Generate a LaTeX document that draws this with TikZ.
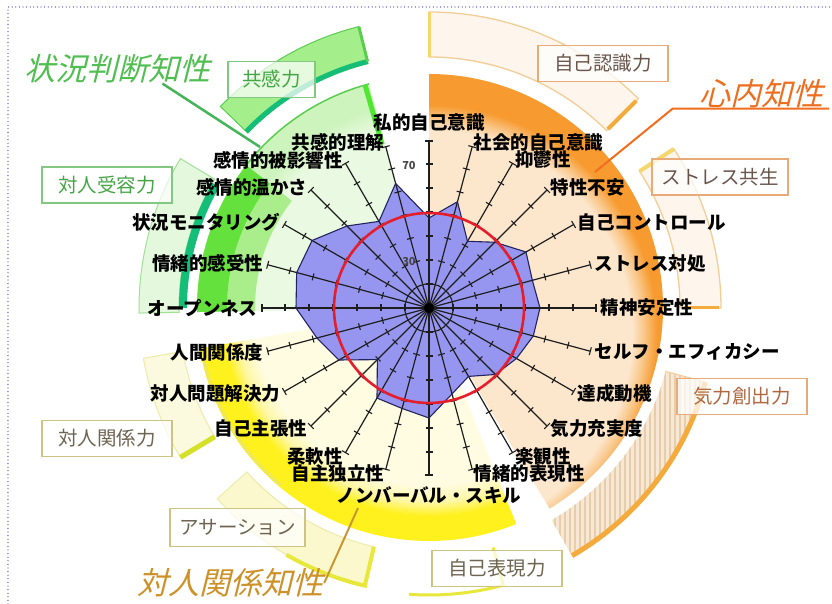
\documentclass[tikz,border=0pt]{standalone}
\usepackage{fontspec}
\newfontfamily\jp{Noto Sans CJK JP}
\newfontfamily\jptitle{Noto Sans CJK JP}[FakeSlant=0.25]
\usetikzlibrary{patterns.meta}
\definecolor{pchA}{RGB}{252,230,204}
\definecolor{pchB}{RGB}{250,200,140}
\definecolor{orgA}{RGB}{247,155,48}
\definecolor{crmA}{RGB}{255,252,226}
\definecolor{crmB}{RGB}{255,247,165}
\definecolor{ylwA}{RGB}{255,241,30}
\definecolor{grnA}{RGB}{234,250,226}
\definecolor{grnB}{RGB}{206,244,190}
\definecolor{grnBright}{RGB}{100,225,60}
\definecolor{grnMid}{RGB}{170,238,140}
\definecolor{grnEdge}{RGB}{90,205,80}
\definecolor{tealG}{RGB}{20,190,120}
\definecolor{kyoFill}{RGB}{165,238,140}
\definecolor{paleG}{RGB}{228,248,222}
\definecolor{paleGedge}{RGB}{160,225,150}
\definecolor{bandPale}{RGB}{254,246,236}
\definecolor{bandEdge}{RGB}{242,205,150}
\definecolor{bandYel}{RGB}{245,215,110}
\definecolor{bandOrg}{RGB}{245,170,60}
\definecolor{tanBase}{RGB}{246,232,212}
\definecolor{tanS}{RGB}{232,205,170}
\definecolor{ybandFill}{RGB}{251,249,222}
\definecolor{ybandFill2}{RGB}{252,248,205}
\definecolor{ybandEdge}{RGB}{236,236,170}
\definecolor{ylwLine}{RGB}{232,232,60}
\definecolor{ylwGreen}{RGB}{212,225,40}
\definecolor{ylwRim}{RGB}{238,232,90}
\definecolor{polyFill}{RGB}{150,150,240}
\definecolor{polyEdge}{RGB}{35,35,95}
\definecolor{axisC}{RGB}{30,30,30}
\definecolor{redC}{RGB}{228,30,45}
\definecolor{bxO}{RGB}{232,170,120}
\definecolor{bxY}{RGB}{205,195,130}
\definecolor{bxG}{RGB}{130,200,130}
\definecolor{txO}{RGB}{105,85,75}
\definecolor{txK}{RGB}{175,105,65}
\definecolor{txY}{RGB}{110,100,82}
\definecolor{txG}{RGB}{70,165,70}
\definecolor{titleG}{RGB}{80,190,80}
\definecolor{titleO}{RGB}{236,110,30}
\definecolor{titleY}{RGB}{205,145,40}
\definecolor{lineG}{RGB}{70,180,90}
\definecolor{lineO}{RGB}{240,110,30}
\definecolor{lineY}{RGB}{200,150,50}
\definecolor{borderC}{RGB}{70,70,170}
\definecolor{sclC}{RGB}{70,70,70}
\pgfdeclareradialshading{shOrange}{\pgfpoint{0bp}{0bp}}{color(0bp)=(pchA); color(19.6bp)=(pchA); color(20.7bp)=(pchB); color(22bp)=(orgA); color(50bp)=(orgA)}
\pgfdeclareradialshading{shYellow}{\pgfpoint{0bp}{0bp}}{color(0bp)=(crmA); color(19bp)=(crmA); color(20.8bp)=(crmB); color(22.3bp)=(ylwA); color(50bp)=(ylwA)}
\pgfdeclareradialshading{shGreen}{\pgfpoint{0bp}{0bp}}{color(0bp)=(grnA); color(19.7bp)=(grnA); color(22.2bp)=(grnB); color(50bp)=(grnB)}
\tikzset{
  wedge/.style n args={3}{insert path={(0,0) -- (#1:#3pt) arc[start angle=#1,end angle=#2,radius=#3pt] -- cycle}},
  sect/.style n args={4}{insert path={(#1:#4pt) arc[start angle=#1,end angle=#2,radius=#4pt] -- (#2:#3pt) arc[start angle=#2,end angle=#1,radius=#3pt] -- cycle}},
  lab/.style={inner sep=0.5pt, font=\jp\bfseries\fontsize{18.5}{20}\selectfont, text=black},
  gbox/.style={draw=#1, line width=1.1pt, fill=white, fill opacity=0.72, text opacity=1, minimum height=36pt, inner sep=0pt, font=\jp\fontsize{19.5}{21}\selectfont},
  ttl/.style={inner sep=0pt, font=\jptitle\fontsize{31}{33}\selectfont},
  axisline/.style={draw=axisC, line width=1.2pt},
  tickmark/.style={draw=axisC, line width=1.1pt},
  scl/.style={inner sep=0pt, font=\jp\bfseries\fontsize{11}{12}\selectfont, text=sclC}
}
\begin{document}
\begin{tikzpicture}[x=1pt,y=1pt]
\useasboundingbox (-429,-296) rectangle (403,308);
\fill[white] (-429,-296) rectangle (403,308);

% ---- outer bands: orange group
\fill[bandPale, sect={45}{90}{251}{296}];
\draw[bandEdge, line width=1.3pt, sect={45}{90}{251}{296}];
\draw[bandYel, line width=3pt] (90:251pt) -- (90:296pt);
\draw[bandOrg, line width=4pt] (45:253pt) -- (45:293pt);
\fill[bandPale, sect={0}{33}{251}{292}];
\draw[bandEdge, line width=1.3pt, sect={0}{33}{251}{292}];
\draw[bandYel, line width=4pt] (33:251pt) -- (33:292pt);
\draw[bandOrg, line width=3pt] (0:255pt) -- (0:290pt);
\fill[tanBase, sect={-60}{-15}{245}{286}];
\fill[pattern={Lines[angle=90,distance=5pt,line width=1.8pt]}, pattern color=tanS, sect={-60}{-15}{245}{286}];
\draw[bandEdge, line width=1pt] (-15:245pt) -- (-15:286pt);
\draw[bandOrg, line width=5pt] (-15:286pt) arc[start angle=-15,end angle=-60,radius=286pt];

% ---- outer bands: yellow group
\fill[ybandFill, sect={190}{211}{250}{290}];
\draw[ybandEdge, line width=1pt, sect={190}{211}{250}{290}];
\draw[ylwGreen, line width=5pt] (211:250pt) -- (211:290pt);
\fill[ybandFill2, sect={222}{257}{245}{285}];
\draw[ybandEdge, line width=1pt, sect={222}{257}{245}{285}];
\draw[ylwLine, line width=4pt] (240:285pt) arc[start angle=240,end angle=257,radius=285pt] -- (257:245pt);
\draw[ylwLine, line width=3pt] (266:287pt) arc[start angle=266,end angle=285,radius=287pt] -- (285:248pt);

% ---- outer bands: green group
\fill[kyoFill, sect={104}{136}{252}{290}];
\draw[grnEdge, line width=1pt, sect={104}{136}{252}{290}];
\draw[tealG, line width=5pt] (104:254pt) arc[start angle=104,end angle=136,radius=254pt];
\draw[grnEdge, line width=3pt] (104:254pt) -- (104:290pt);
\fill[paleG, sect={149}{181}{250}{290}];
\draw[paleGedge, line width=1pt, sect={149}{181}{250}{290}];
\draw[tealG, line width=8pt] (150:246pt) arc[start angle=150,end angle=180,radius=246pt];

% ---- main sectors
\begin{scope}
\clip[wedge={-59}{90}{234}];
\shade[shading=shOrange] (0,-25) circle[radius=259pt];
\end{scope}
\begin{scope}
\clip[wedge={190}{292}{233}];
\shade[shading=shYellow] (0,0) circle[radius=233pt];
\end{scope}
\draw[ylwRim, line width=3pt] (190:231pt) arc[start angle=190,end angle=230,radius=231pt];
\begin{scope}
\clip[wedge={105}{181}{232}];
\shade[shading=shGreen] (0,0) circle[radius=232pt];
\end{scope}
\fill[grnMid, sect={142}{181}{174}{202}];
\fill[grnBright, sect={142}{181}{202}{232}];
\draw[grnEdge, line width=1.5pt] (105:232pt) arc[start angle=105,end angle=142,radius=232pt];
\draw[grnBright!80!green, line width=5pt] (106:170pt) -- (106:232pt);

% ---- titles and their connectors
\node[ttl, text=titleG] (tJokyo) at (-311.5,239) {状況判断知性};
\node[ttl, text=titleO] (tShinnai) at (332,214) {心内知性};
\node[ttl, text=titleY] (tTaijin) at (-198,-275) {対人関係知性};
\coordinate (gEnd) at (-169,161);
\coordinate (oEnd) at (166,136);
\coordinate (yEnd) at (-71,-200);
\draw[lineG, line width=2.5pt] ([xshift=45pt]tJokyo.south) -- (gEnd);
\draw[lineO, line width=2pt] ([xshift=6pt]tShinnai.south east) -- ([xshift=-26pt]tShinnai.south west) -- (oEnd);
\draw[lineY, line width=2pt] (tTaijin.east) -- (yEnd);

% ---- group boxes
\node[gbox=bxO, minimum width=130pt, text=txO] (bJiko) at (174,244.5) {自己認識力};
\node[gbox=bxO, minimum width=136pt, text=txO] (bStress) at (291,131) {ストレス共生};
\node[gbox=bxO, minimum width=130pt, text=txK] (bKiryoku) at (313,-88.5) {気力創出力};
\node[gbox=bxY, minimum width=130pt, text=txY] (bHyogen) at (68,-260.5) {自己表現力};
\node[gbox=bxY, minimum width=135pt, minimum height=38pt, text=txY] (bAsser) at (-191.5,-219.5) {アサーション};
\node[gbox=bxY, minimum width=130pt, text=txY] (bKankei) at (-322,-130.5) {対人関係力};
\node[gbox=bxG, minimum width=87pt, text=txG] (bKyokan) at (-157.5,228.5) {共感力};
\node[gbox=bxG, minimum width=130pt, text=txG] (bJuyo) at (-322,123) {対人受容力};

% ---- profile polygon
\fill[polyFill] (90:90pt) -- (75:110pt) -- (60:77pt) -- (45:93pt) -- (30:112pt) -- (15:107pt) -- (0:111pt) -- (-15:108pt) -- (-30:101pt) -- (-45:94pt) -- (-60:79pt) -- (-75:89pt) -- (-90:110pt) -- (-105:104pt) -- (-120:104pt) -- (-135:73pt) -- (-150:104pt) -- (-165:116pt) -- (-180:133pt) -- (-195:137pt) -- (-210:135pt) -- (-225:116pt) -- (-240:100pt) -- (-255:129pt) -- cycle;

% ---- axes with ticks
\foreach \i in {0,...,23}{
  \begin{scope}[rotate={90-15*\i}]
    \draw[axisline] (0,0) -- (167,0);
    \foreach \t in {24,48,72,96,120,144} \draw[tickmark] (\t,-3.5) -- (\t,3.5);
    \draw[tickmark] (167,-4) -- (167,4);
  \end{scope}
}
\draw[polyEdge, line width=1.1pt] (90:90pt) -- (75:110pt) -- (60:77pt) -- (45:93pt) -- (30:112pt) -- (15:107pt) -- (0:111pt) -- (-15:108pt) -- (-30:101pt) -- (-45:94pt) -- (-60:79pt) -- (-75:89pt) -- (-90:110pt) -- (-105:104pt) -- (-120:104pt) -- (-135:73pt) -- (-150:104pt) -- (-165:116pt) -- (-180:133pt) -- (-195:137pt) -- (-210:135pt) -- (-225:116pt) -- (-240:100pt) -- (-255:129pt) -- cycle;
\fill[black] (0,0) circle[radius=5pt];
\draw[redC, line width=2.6pt] (0,0) circle[radius=95pt];

% ---- scale labels
\node[scl] (s70) at (-20,142) {70};
\node[scl] (s30) at (-20,46) {30};

% ---- axis labels
\node[lab, anchor=south] (ax0) at (0,176) {私的自己意識};
\foreach \i/\txt in {1/社会的自己意識,2/抑鬱性,3/特性不安,4/自己コントロール,5/ストレス対処,6/精神安定性,7/セルフ・エフィカシー,8/達成動機,9/気力充実度,10/楽観性,11/情緒的表現性}{
  \node[lab, anchor=west] (ax\i) at ({90-15*\i}:171pt) {\txt};
}
\node[lab, anchor=north] (ax12) at (0,-178) {ノンバーバル・スキル};
\foreach \i/\txt in {13/自主独立性,14/柔軟性,15/自己主張性,16/対人問題解決力,17/人間関係度,18/オープンネス,19/情緒的感受性,20/状況モニタリング,21/感情的温かさ,22/感情的被影響性,23/共感的理解}{
  \node[lab, anchor=east] (ax\i) at ({90-15*\i}:171pt) {\txt};
}

% ---- dotted frame
\draw[borderC, line width=1.3pt, line cap=round, dash pattern=on 0pt off 3.6pt] (-421,-296) -- (-421,301) -- (403,301);
\end{tikzpicture}
\end{document}
